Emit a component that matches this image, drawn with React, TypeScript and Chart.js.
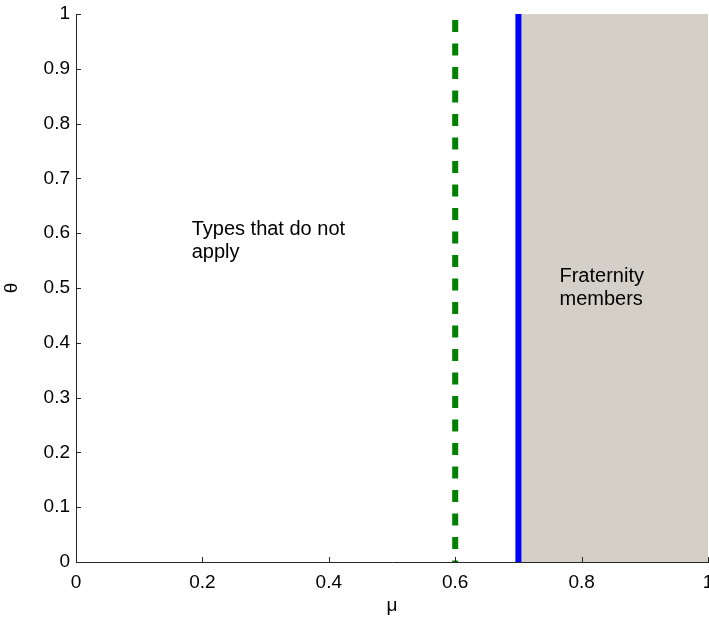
import React, { useEffect, useRef } from "react";
import { Chart, registerables } from "chart.js";

Chart.register(...registerables);

const xTickStep = 0.2;
const yTickStep = 0.1;
const greenLineX = [0.6, 0.6];
const greenLineY = [1, 0];
const blueLineX = [0.7, 0.7];
const blueLineY = [1, 0];
const shadeX = [0.7, 1];
const shadeY = [1, 1];
const labelLeft = ["Types that do not", "apply"];
const labelRight = ["Fraternity", "members"];
const labelLeftPos = [0.183, 0.61];
const labelRightPos = [0.765, 0.523];

const FONT = "Arial, 'Liberation Sans', sans-serif";

const toPts = (xs: number[], ys: number[]) => xs.map((x, i) => ({ x, y: ys[i] }));
const fmt = (v: any) => String(Number(Number(v).toFixed(1)));

const decorPlugin = {
  id: "decor",
  afterDatasetsDraw(chart: any) {
    const { ctx, scales } = chart;
    const xs = scales.x;
    const ys = scales.y;
    ctx.save();
    ctx.fillStyle = "#000";
    ctx.font = `20px ${FONT}`;
    ctx.textBaseline = "alphabetic";
    ctx.textAlign = "left";
    const lh = 23;
    const drawLines = (lines: string[], pos: number[]) => {
      const px = xs.getPixelForValue(pos[0]);
      const py = ys.getPixelForValue(pos[1]);
      lines.forEach((t, i) => ctx.fillText(t, px, py + 7 + i * lh));
    };
    drawLines(labelLeft, labelLeftPos);
    drawLines(labelRight, labelRightPos);
    ctx.strokeStyle = "#262626";
    ctx.lineWidth = 1;
    const bottom = ys.getPixelForValue(0);
    const left = xs.getPixelForValue(0);
    xs.ticks.forEach((t: any) => {
      const px = Math.round(xs.getPixelForValue(t.value)) + 0.5;
      ctx.beginPath();
      ctx.moveTo(px, bottom);
      ctx.lineTo(px, bottom - 5);
      ctx.stroke();
    });
    ys.ticks.forEach((t: any) => {
      const py = Math.round(ys.getPixelForValue(t.value)) + 0.5;
      ctx.beginPath();
      ctx.moveTo(left, py);
      ctx.lineTo(left + 5, py);
      ctx.stroke();
    });
    ctx.restore();
  },
};

export default function App() {
  const ref = useRef<HTMLCanvasElement>(null);
  useEffect(() => {
    document.body.style.margin = "0";
    const chart = new Chart(ref.current!, {
      type: "line",
      data: {
        datasets: [
          {
            data: toPts(shadeX, shadeY),
            borderWidth: 0,
            pointRadius: 0,
            backgroundColor: "#d4d0c8",
            borderColor: "#d4d0c8",
            fill: "origin",
            order: 3,
          },
          {
            data: toPts(greenLineX, greenLineY),
            borderColor: "#008000",
            borderWidth: 6,
            borderDash: [12, 11.5],
            borderDashOffset: 17.5,
            borderCapStyle: "butt",
            pointRadius: 0,
            fill: false,
            order: 2,
          },
          {
            data: toPts(blueLineX, blueLineY),
            borderColor: "#0000ff",
            borderWidth: 6,
            borderCapStyle: "butt",
            pointRadius: 0,
            fill: false,
            order: 1,
          },
        ],
      },
      options: {
        animation: false,
        responsive: false,
        maintainAspectRatio: false,
        layout: { padding: { left: 0, right: 1, top: 14, bottom: 0 } },
        plugins: { legend: { display: false }, tooltip: { enabled: false } },
        scales: {
          x: {
            type: "linear",
            min: 0,
            max: 1,
            ticks: {
              stepSize: xTickStep,
              color: "#000",
              font: { size: 19, family: FONT },
              padding: 9,
              maxRotation: 0,
              callback: fmt,
            },
            grid: { drawOnChartArea: false, drawTicks: false },
            border: { color: "#262626", width: 1 },
            title: {
              display: true,
              text: "μ",
              color: "#000",
              font: { size: 19, family: FONT },
              padding: 0,
            },
            afterFit: (s: any) => {
              s.height = 55;
              s.paddingLeft = 0;
              s.paddingRight = 0;
            },
          },
          y: {
            type: "linear",
            min: 0,
            max: 1,
            ticks: {
              stepSize: yTickStep,
              color: "#000",
              font: { size: 19, family: FONT },
              padding: 6,
              callback: fmt,
            },
            grid: { drawOnChartArea: false, drawTicks: false },
            border: { color: "#262626", width: 1 },
            title: {
              display: true,
              text: "θ",
              color: "#000",
              font: { size: 19, family: FONT },
              padding: 0,
            },
            afterFit: (s: any) => {
              s.width = 76;
              s.paddingTop = 0;
              s.paddingBottom = 0;
            },
          },
        },
      },
      plugins: [decorPlugin],
    } as any);
    return () => chart.destroy();
  }, []);
  return (
    <div style={{ position: "absolute", left: 0, top: 0, width: 709, height: 617 }}>
      <canvas ref={ref} width={709} height={617} style={{ display: "block" }} />
    </div>
  );
}
